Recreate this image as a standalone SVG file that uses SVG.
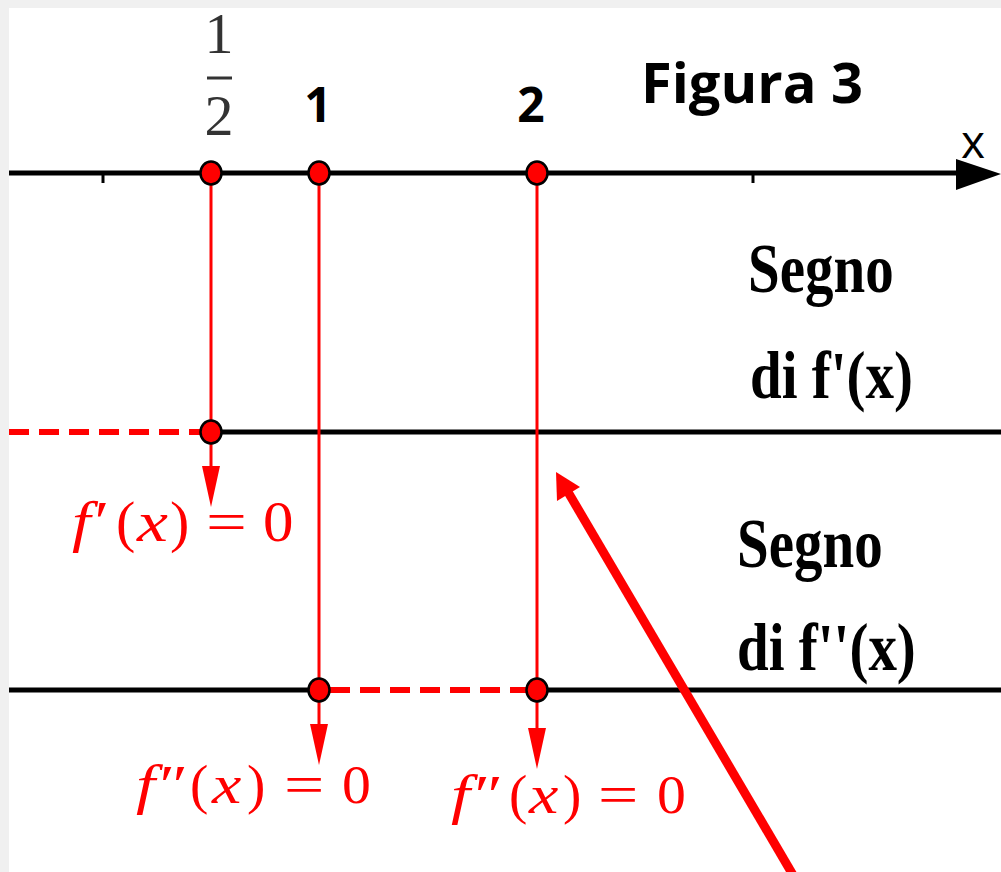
<svg xmlns="http://www.w3.org/2000/svg" width="1001" height="872" viewBox="0 0 1001 872">
<style>
.axis{stroke:#000;stroke-width:5;fill:none}
.red{stroke:#ff0000;stroke-width:3;fill:none}
.dash{stroke:#ff0000;stroke-width:6;stroke-dasharray:20 10;fill:none}
.pt{fill:#ff0000;stroke:#000;stroke-width:2.5}
.ah{fill:#ff0000}
.lbl{font-family:"Open Sans","Liberation Sans",Arial,sans-serif;font-weight:bold;fill:#000}
.serifb{font-family:"Liberation Serif","Times New Roman",serif;font-weight:bold;fill:#000;font-size:57px}
.mi{font-family:"Liberation Serif","Times New Roman",serif;font-style:italic;fill:#ff0000}
.mr{font-family:"Liberation Serif","Times New Roman",serif;fill:#ff0000}
</style>
<rect x="0" y="0" width="1001" height="872" fill="#f0f0f0"/>
<rect x="9" y="8" width="992" height="864" fill="#ffffff"/>

<g id="connectors">
  <line class="axis" x1="9" y1="173" x2="960" y2="173"/>
  <polygon points="956,159 1001,174 956,190" fill="#000"/>
  <line x1="103" y1="173" x2="103" y2="183" stroke="#000" stroke-width="3"/>
  <line x1="753" y1="173" x2="753" y2="183" stroke="#000" stroke-width="3"/>
  <line class="dash" x1="9" y1="432" x2="200" y2="432"/>
  <line class="axis" x1="211" y1="432" x2="1001" y2="432"/>
  <line class="axis" x1="9" y1="690" x2="319" y2="690"/>
  <line class="dash" x1="330" y1="690" x2="527" y2="690"/>
  <line class="axis" x1="537" y1="690" x2="1001" y2="690"/>
  <line class="red" x1="211" y1="173" x2="211" y2="470"/>
  <polygon class="ah" points="202,466 220,466 211,507"/>
  <line class="red" x1="319" y1="173" x2="319" y2="728"/>
  <polygon class="ah" points="310,724 328,724 319,765"/>
  <line class="red" x1="537" y1="173" x2="537" y2="732"/>
  <polygon class="ah" points="528,728 546,728 537,769"/>
  <line x1="793" y1="875" x2="568" y2="492" stroke="#ff0000" stroke-width="9"/>
  <polygon class="ah" points="556,472 580,487 557,501"/>
</g>

<g id="points">
  <ellipse class="pt" cx="211" cy="173" rx="10.5" ry="11.5"/>
  <ellipse class="pt" cx="319" cy="173" rx="10.5" ry="11.5"/>
  <ellipse class="pt" cx="537" cy="173" rx="10.5" ry="11.5"/>
  <ellipse class="pt" cx="211" cy="432" rx="10.5" ry="11.5"/>
  <ellipse class="pt" cx="319" cy="690" rx="10.5" ry="11.5"/>
  <ellipse class="pt" cx="537" cy="690" rx="10.5" ry="11.5"/>
</g>

<g id="labels-top">
  <text x="219" y="53" font-family="Liberation Serif, serif" font-size="58" fill="#333" text-anchor="middle">1</text>
  <line x1="207" y1="78" x2="232" y2="78" stroke="#333" stroke-width="3"/>
  <text x="219" y="135" font-family="Liberation Serif, serif" font-size="58" fill="#333" text-anchor="middle">2</text>
  <text class="lbl" x="318" y="122" font-size="48" text-anchor="middle">1</text>
  <text class="lbl" x="531" y="122" font-size="48" text-anchor="middle">2</text>
  <text class="lbl" x="752" y="103" font-size="56" text-anchor="middle">Figura 3</text>
  <text x="973" y="158" font-family="Open Sans, Liberation Sans, sans-serif" font-size="46" text-anchor="middle" fill="#000">x</text>
</g>

<g id="labels-sign">
  <text class="serifb" transform="translate(748,292) scale(1,1.22)">Segno</text>
  <text class="serifb" transform="translate(750,398) scale(1,1.2)">di f'(x)</text>
  <text class="serifb" transform="translate(737,567) scale(1,1.22)">Segno</text>
  <text class="serifb" transform="translate(737,670) scale(1,1.2)">di f''(x)</text>
</g>

<g id="labels-math">
  <g font-size="58">
    <text class="mi" transform="translate(72,541) scale(1.15,1)">f′</text>
    <text class="mr" x="116" y="541">(</text>
    <text class="mi" transform="translate(137,541) scale(1.2,1)">x</text>
    <text class="mr" x="170" y="541">)</text>
    <text class="mr" transform="translate(206,541) scale(1.25,1)">=</text>
    <text class="mr" transform="translate(263,541) scale(1.05,1)">0</text>
  </g>
  <g font-size="55">
    <text class="mi" transform="translate(136,803) scale(1.25,1)">f″</text>
    <text class="mr" x="190" y="803">(</text>
    <text class="mi" transform="translate(212,803) scale(1.2,1)">x</text>
    <text class="mr" x="247" y="803">)</text>
    <text class="mr" transform="translate(284,803) scale(1.3,1)">=</text>
    <text class="mr" transform="translate(342,803) scale(1.05,1)">0</text>
  </g>
  <g font-size="55">
    <text class="mi" transform="translate(451,813) scale(1.25,1)">f″</text>
    <text class="mr" x="509" y="813">(</text>
    <text class="mi" transform="translate(529,813) scale(1.2,1)">x</text>
    <text class="mr" x="563" y="813">)</text>
    <text class="mr" transform="translate(598,813) scale(1.3,1)">=</text>
    <text class="mr" transform="translate(657,813) scale(1.05,1)">0</text>
  </g>
</g>
</svg>
